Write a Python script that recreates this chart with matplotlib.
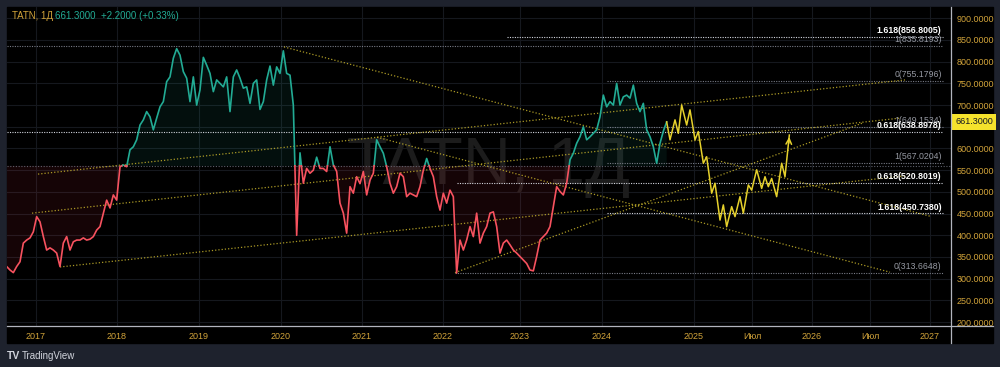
import numpy as np
import matplotlib.pyplot as plt
from matplotlib.lines import Line2D
from matplotlib.patches import Rectangle

# --- data (bar index = one sample of the daily chart) ---
close = [
    328, 320, 314, 328, 339, 382, 389, 394, 408, 443, 431, 397, 366, 371, 366, 359, 328, 382, 397,
    366, 385, 389, 389, 394, 389, 391, 397, 412, 420, 451, 481, 463, 493, 481, 558, 562, 558,
    597, 604, 620, 654, 666, 685, 673, 643, 670, 696, 708, 754, 765, 808, 830, 815, 777, 762, 708,
    765, 700, 735, 810, 792, 773, 731, 758, 750, 742, 765, 685, 765, 781, 762, 739, 742, 704, 750, 758,
    690, 708, 758, 790, 746, 788, 773, 825, 773, 769, 700, 400, 590, 520, 554, 543, 550, 580, 554,
    554, 547, 604, 562, 547, 474, 451, 405, 512, 497, 535, 519, 547, 493, 527, 543, 620, 604, 589, 558,
    520, 497, 512, 543, 535, 489, 497, 493, 489, 512, 550, 577, 554, 535, 489, 458, 497, 474, 504,
    489, 313, 389, 366, 389, 420, 397, 451, 382, 405, 420, 451, 454, 420, 359, 382, 389, 378, 366, 359,
    351, 343, 335, 320, 318, 351, 389, 397, 405, 420, 466, 512, 501, 493, 520, 574, 589, 612, 627,
    650, 620, 627, 635, 643, 673, 723, 696, 708, 700, 750, 700, 719, 723, 716, 746, 704, 685, 704,
    643, 627, 604, 566, 612, 640, 661.3,
]
baseline = 560
last_price = 661.3

# yellow forecast path (bar, price)
proj_bar = [198, 199, 200.5, 201.5, 202.5, 204, 205, 206.5, 207.5, 209, 210, 211.5, 212.5, 214, 215,
            216, 217.5, 218.5, 220, 221, 222.5, 223.5, 225, 226.5, 227.5, 228.5, 229.5, 231, 232.5,
            233.5, 234.8]
proj_val = [661.3, 620, 666, 635, 700, 654, 689, 620, 639, 566, 581, 497, 520, 435, 470,
            420, 466, 443, 489, 451, 516, 504, 551, 508, 535, 512, 531, 489, 566,
            535, 631]

# trend lines: (bar0, price0, bar1, price1)
trend_lines = [
    (83.2, 834, 277, 444),
    (111.1, 626, 265, 315),
    (16, 327, 269.5, 537),
    (7.6, 451, 268, 670),
    (9.4, 541, 269.5, 758),
    (134.5, 314, 256.9, 659),
]

# fibonacci levels: (price, label, start bar, bright)
fib_levels = [
    (856.8005, '1.618(856.8005)', 150, True),
    (835.8193, '1(835.8193)', 0, False),
    (755.1796, '0(755.1796)', 180, False),
    (649.1534, '1(649.1534)', 180, False),
    (638.8978, '0.618(638.8978)', 0, True),
    (567.0204, '1(567.0204)', 180, False),
    (520.8019, '0.618(520.8019)', 135, True),
    (450.7380, '1.618(450.7380)', 180, True),
    (313.6648, '0(313.6648)', 134.5, False),
]

year_ticks = [8.8, 33.1, 57.7, 82.3, 106.6, 130.9, 154, 178.6, 206.2, 223.6, 241.6, 259, 277]
year_labels = ['2017', '2018', '2019', '2020', '2021', '2022', '2023', '2024', '2025',
               'Июл', '2026', 'Июл', '2027']
price_ticks = list(range(200, 901, 50))

TEAL = '#22ab94'
RED = '#f7525f'
GOLD = '#d1a33a'
YEL = '#c8b42c'
NARROW = ['Liberation Sans Narrow', 'Liberation Sans', 'DejaVu Sans']
plt.rcParams['font.family'] = NARROW

W, H = 1000, 367
fig = plt.figure(figsize=(W / 100, H / 100), dpi=100, facecolor='#1e222d')
fig.add_artist(Rectangle((7 / W, 1 - 343 / H), 986 / W, 336 / H, transform=fig.transFigure,
                         color='black', zorder=-10))
ax = fig.add_axes([7 / W, 1 - 326 / H, 944 / W, 319 / H], facecolor='black')
ax.set_xlim(0.1, 283.3)
ax.set_ylim(191, 926)

# grid
for t in year_ticks:
    ax.axvline(t, color='#15181e', lw=0.8, zorder=0)
for p in price_ticks:
    ax.axhline(p, color='#15181e', lw=0.8, zorder=0)

# baseline series, split at crossings
x = np.arange(len(close), dtype=float)
y = np.array(close, dtype=float)
xx, yy = [x[0]], [y[0]]
for i in range(len(y) - 1):
    a, b = y[i] - baseline, y[i + 1] - baseline
    if a * b < 0:
        xc = x[i] + a / (a - b) * (x[i + 1] - x[i])
        xx.append(xc)
        yy.append(baseline)
    xx.append(x[i + 1])
    yy.append(y[i + 1])
xx, yy = np.array(xx), np.array(yy)
ax.fill_between(xx, yy, baseline, where=yy >= baseline, color=TEAL, alpha=0.09, lw=0, zorder=1)
ax.fill_between(xx, yy, baseline, where=yy <= baseline, color='#f23645', alpha=0.09, lw=0, zorder=1)
ax.plot(xx, np.where(yy >= baseline, yy, np.nan), color=TEAL, lw=1.2, zorder=4)
ax.plot(xx, np.where(yy <= baseline, yy, np.nan), color=RED, lw=1.2, zorder=4)
ax.axhline(baseline, color='#5d606b', lw=0.8, ls=(0, (1, 1.5)), zorder=2)

# watermark
ax.text(0.51, 0.50, 'TATN, 1Д', transform=ax.transAxes, ha='center', va='center',
        fontsize=48, color='#1c1c1c', zorder=0.5)

# fib levels
for price, label, start, bright in fib_levels:
    c = '#d1d4dc' if bright else '#787b86'
    ax.plot([start, 281], [price, price], color=c, lw=0.8, ls=(0, (1, 1.2)), zorder=2)
    ax.text(280.5, price + 4, label, color='white' if bright else '#9598a1', fontsize=6.3,
            fontweight='bold' if bright else 'normal', ha='right', va='bottom', zorder=6)

# trend lines
for b0, p0, b1, p1 in trend_lines:
    ax.plot([b0, b1], [p0, p1], color=YEL, lw=0.9, ls=(0, (1, 1.6)), alpha=0.85, zorder=3)

# forecast path
ax.plot(proj_bar, proj_val, color='#e6d12c', lw=1.1, zorder=5)
ax.annotate('', xy=(proj_bar[-1], proj_val[-1] + 2), xytext=(proj_bar[-1] - 0.2, proj_val[-1] - 25),
            arrowprops=dict(arrowstyle='->', color='#e6d12c', lw=1.1), zorder=5)

# axes / ticks (the 650 label sits under the last-price tag, so it is left blank)
for s in ax.spines.values():
    s.set_visible(False)
ax.yaxis.tick_right()
ax.set_yticks(price_ticks, ['' if abs(p - last_price) < 15 else '%.4f' % p for p in price_ticks])
ax.set_xticks(year_ticks, year_labels)
ax.tick_params(axis='both', length=0, labelcolor=GOLD, labelsize=6.5)
ax.tick_params(axis='y', pad=4)
ax.tick_params(axis='x', pad=4)

# last price label
ax.annotate('%.4f' % last_price, xy=(1.0, last_price), xycoords=('axes fraction', 'data'),
            xytext=(3, 0), textcoords='offset points', ha='left', va='center',
            fontsize=6.5, color='#131722',
            bbox=dict(boxstyle='square,pad=0.35', fc='#f5e22c', ec='none'))

# separators
fig.add_artist(Line2D([951 / W, 951 / W], [1 - 343 / H, 1 - 7 / H], color='#b2b5be', lw=0.9))
fig.add_artist(Line2D([7 / W, 993 / W], [1 - 326 / H, 1 - 326 / H], color='#b2b5be', lw=0.9))

# header
fig.text(12 / W, 1 - 16 / H, 'TATN, 1Д', color=GOLD, fontsize=7, va='center')
fig.text(55 / W, 1 - 16 / H, '661.3000  +2.2000 (+0.33%)', color=TEAL, fontsize=7, va='center')
fig.text(7 / W, 1 - 356 / H, 'TV', color='#d1d4dc', fontsize=7.5, fontweight='bold', va='center')
fig.text(22 / W, 1 - 356 / H, 'TradingView', color='#d1d4dc', fontsize=7, va='center')

fig.savefig('out.png', dpi=100, facecolor=fig.get_facecolor())
